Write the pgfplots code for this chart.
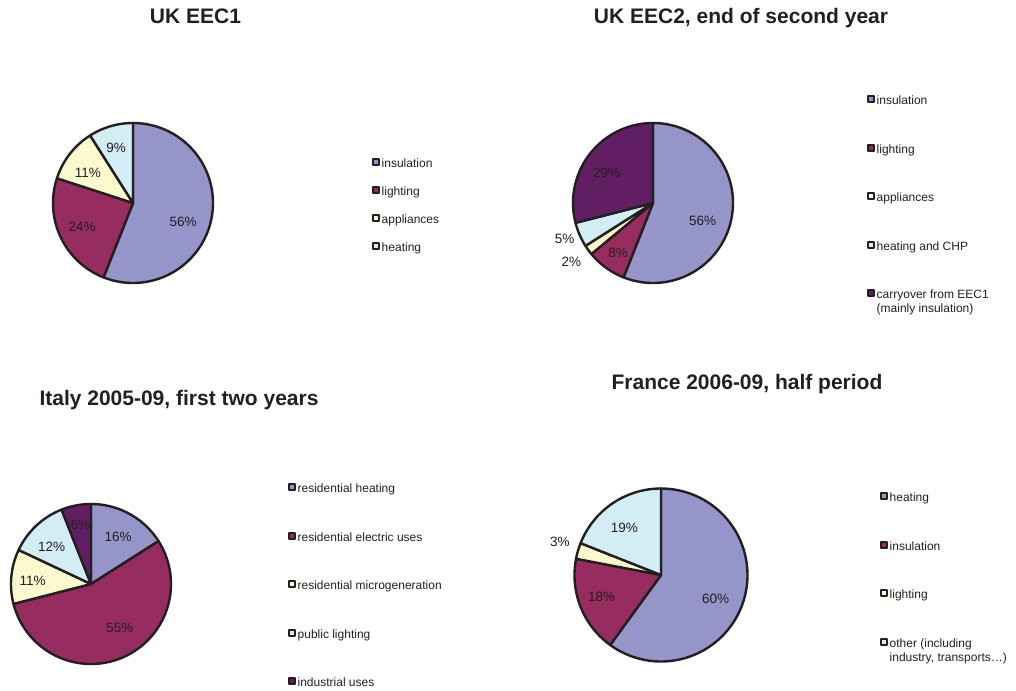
\documentclass[border=0pt]{standalone}
\usepackage{fontspec}
\setmainfont{Liberation Sans}
\usepackage{pgfplots}
\pgfplotsset{compat=1.18}
\usepgfplotslibrary{polar}

\definecolor{c1}{HTML}{9595CA}
\definecolor{c2}{HTML}{962C60}
\definecolor{c3}{HTML}{FBFACF}
\definecolor{c4}{HTML}{D2EDF3}
\definecolor{c5}{HTML}{611E62}
\definecolor{edge}{HTML}{231F20}
\definecolor{ink}{HTML}{231F20}

\newcommand\lab{\fontsize{13.5}{15}\selectfont}
\newcommand\ttl{\bfseries\fontsize{21}{24}\selectfont}
\newcommand\two[2]{\vtop{\hbox{#1}\hbox{#2}}}

% one slice: start (cumulative %), share (%), colour, label angle, label radius
\newcommand\slice[5]{%
  \addplot[fill=#3, draw=edge, line width=2.4pt, line join=round,
    domain=90-3.6*(#1+#2):90-3.6*#1, samples=90] {1} -- (0,0) -- cycle;
  \node[font=\lab, text=ink] at (axis cs:#4,#5) {#2\%};
}

\pgfplotsset{pie/.style={
  hide axis, scale only axis, ymin=0, ymax=1, xmin=0, xmax=360,
  clip=false, anchor=center, legend cell align=left,
  legend image code/.code={\draw[##1, draw=edge, line width=2pt] (0pt,-0.5pt) rectangle (6pt,5.5pt);},
  legend style={draw=none, fill=none, inner sep=0pt, anchor=north west,
    font=\fontsize{12}{14}\selectfont, text=ink, column sep=1.5pt,
    nodes={inner sep=0pt, text height=9pt, text depth=3pt}},
}}

\begin{document}
\begin{tikzpicture}[x=1pt, y=1pt]

% UK EEC1
\begin{polaraxis}[pie, width=160pt, height=160pt, at={(133pt,-203pt)},
  legend style={at={(1.994,0.781)}, row sep=15.3pt}]
  \slice{0}{56}{c1}{-21}{0.67}
  \slice{56}{24}{c2}{205}{0.70}
  \slice{80}{11}{c3}{146}{0.68}
  \slice{91}{9}{c4}{107}{0.72}
  \legend{insulation, lighting, appliances, heating}
\end{polaraxis}

% UK EEC2
\begin{polaraxis}[pie, width=160pt, height=160pt, at={(653pt,-203pt)},
  legend style={at={(1.8375,1.175)}, row sep=36pt}]
  \slice{0}{56}{c1}{-20}{0.66}
  \slice{56}{8}{c2}{235}{0.76}
  \slice{64}{2}{c3}{216}{1.26}
  \slice{66}{5}{c4}{202}{1.19}
  \slice{71}{29}{c5}{147}{0.69}
  \legend{insulation, lighting, appliances, heating and CHP,
    {\two{carryover from EEC1}{(mainly insulation)}}}
\end{polaraxis}

% Italy
\begin{polaraxis}[pie, width=160pt, height=160pt, at={(91pt,-584pt)},
  legend style={at={(1.731,1.131)}, row sep=36pt}]
  \slice{0}{16}{c1}{60}{0.68}
  \slice{16}{55}{c2}{-57}{0.66}
  \slice{71}{11}{c3}{177}{0.73}
  \slice{82}{12}{c4}{136.5}{0.68}
  \slice{94}{6}{c5}{100}{0.75}
  \legend{residential heating, residential electric uses,
    residential microgeneration, public lighting, industrial uses}
\end{polaraxis}

% France
\begin{polaraxis}[pie, width=173pt, height=173pt, at={(661pt,-575pt)},
  legend style={at={(1.766,0.980)}, row sep=36pt}]
  \slice{0}{60}{c1}{-23.6}{0.69}
  \slice{60}{18}{c2}{200}{0.73}
  \slice{78}{3}{c3}{162}{1.23}
  \slice{81}{19}{c4}{128}{0.69}
  \legend{heating, insulation, lighting,
    {\two{other (including}{industry, transports\dots)}}}
\end{polaraxis}

\node[font=\ttl, text=ink, anchor=base] at (195.5,-24) {UK EEC1};
\node[font=\ttl, text=ink, anchor=base] at (741,-24) {UK EEC2, end of second year};
\node[font=\ttl, text=ink, anchor=base] at (179,-405) {Italy 2005-09, first two years};
\node[font=\ttl, text=ink, anchor=base] at (747,-389) {France 2006-09, half period};

\pgfresetboundingbox
\path (0,0) rectangle (1016,-690);
\end{tikzpicture}
\end{document}
